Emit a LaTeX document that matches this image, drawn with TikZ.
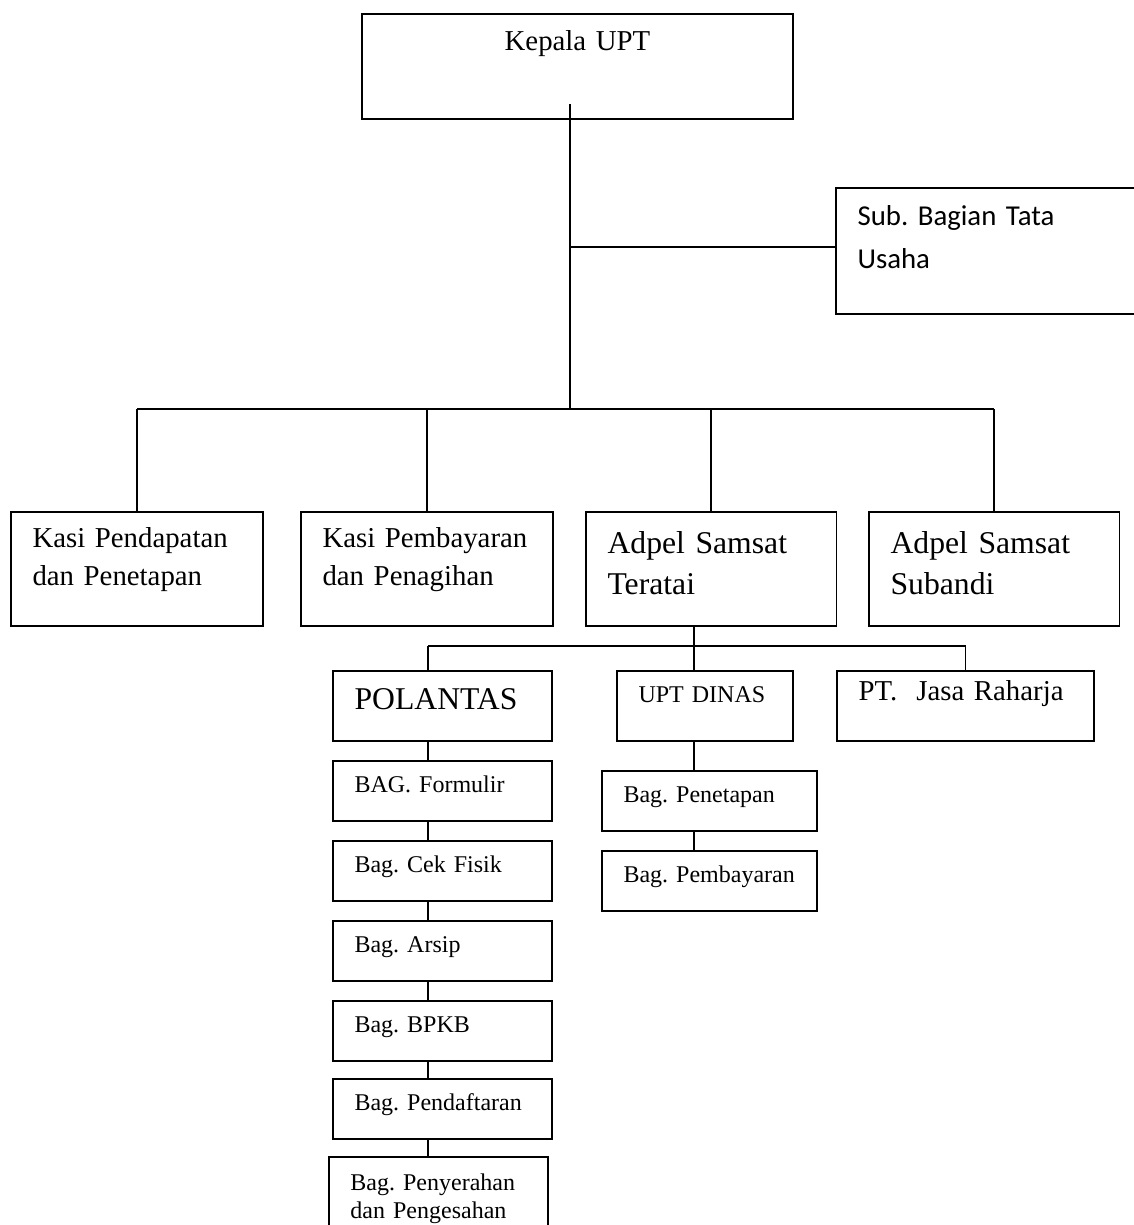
\documentclass[tikz,border=0pt]{standalone}
\usepackage{fontspec}
\setmainfont{Liberation Serif}
\newfontfamily\calibri{Carlito}
\usetikzlibrary{positioning}

\begin{document}
\begin{tikzpicture}[
  x=0.41667pt, y=-0.41667pt,
  line width=0.8pt,
  box/.style={draw, fill=white, anchor=north west, align=left, inner xsep=9pt, inner ysep=0pt},
  kasi/.style={box, text width=87.2pt, text height=15pt, text depth=32.5pt, font=\fontsize{12}{15.8}\selectfont},
  adpel/.style={box, text width=86.4pt, text height=17.1pt, text depth=30.4pt, font=\fontsize{13.2}{17.1}\selectfont},
  bag/.style={box, text width=73.25pt, text height=13.3pt, text depth=11.7pt, font=\fontsize{10}{11.7}\selectfont}
]
\useasboundingbox (0,0) rectangle (1134,1225);
\node[box, text width=161.6pt, align=center, text height=15.4pt, text depth=28.35pt, font=\fontsize{12}{14}\selectfont] (kepala) at (361,13) {Kepala UPT};
\node[box, text width=113.25pt, text height=15.8pt, text depth=36.7pt, font=\calibri\fontsize{12}{17.9}\selectfont] (tatausaha) at (835,187) {Sub.~Bagian~Tata\\Usaha};
\node[kasi] (pendapatan) at (10,511) {Kasi~Pendapatan\\dan~Penetapan};
\node[kasi] (pembayaran) at (300,511) {Kasi~Pembayaran\\dan~Penagihan};
\node[adpel] (teratai) at (585,511) {Adpel~Samsat\\Teratai};
\node[adpel] (subandi) at (868,511) {Adpel~Samsat\\Subandi};
\node[box, text width=73.25pt, text height=16.25pt, text depth=12.9pt, font=\fontsize{13.2}{15}\selectfont] (polantas) at (332,670) {POLANTAS};
\node[box, text width=55.3pt, text height=13.3pt, text depth=15.9pt, font=\fontsize{10}{12}\selectfont] (uptdinas) at (616,670) {UPT~DINAS};
\node[box, text width=89.1pt, text height=12.5pt, text depth=16.7pt, font=\fontsize{12}{14}\selectfont] (jasaraharja) at (836,670) {PT.~~Jasa~Raharja};
\node[bag, below=7.5pt of polantas] (formulir) {BAG.~Formulir};
\node[bag, below=7.5pt of formulir] (cekfisik) {Bag.~Cek~Fisik};
\node[bag, below=7.5pt of cekfisik] (arsip) {Bag.~Arsip};
\node[bag, below=7.5pt of arsip] (bpkb) {Bag.~BPKB};
\node[bag, below=6.7pt of bpkb] (pendaftaran) {Bag.~Pendaftaran};
\node[bag, below=6.7pt of pendaftaran, xshift=-1.7pt, text height=14.2pt, text depth=25.8pt] (penyerahan) {Bag.~Penyerahan\\dan~Pengesahan};
\node[bag, below=11.7pt of uptdinas, xshift=1.9pt, text width=71.6pt] (penetapan) {Bag.~Penetapan};
\node[bag, below=7.5pt of penetapan, text width=71.6pt] (pembayaranbag) {Bag.~Pembayaran};
\coordinate (hub) at (570,409);
\coordinate (hub2) at (694,646);
\coordinate (polx) at (428,646);
\draw ([yshift=6.7pt]kepala.south -| hub) -- (hub);
\draw ([yshift=1.7pt]tatausaha.west) -- ([yshift=1.7pt]tatausaha.west -| hub);
\draw (pendapatan.north |- hub) -- (subandi.north |- hub);
\foreach \n in {pendapatan,pembayaran,teratai,subandi}
  \draw (\n.north) -- (\n.north |- hub);
\draw (teratai.south -| hub2) -- (hub2);
\draw (polx) -- (jasaraharja.north |- hub2) -- (jasaraharja.north);
\draw (polx) -- (polantas.north -| polx);
\draw (hub2) -- (uptdinas.north -| hub2);
\foreach \a/\b in {polantas/formulir,formulir/cekfisik,cekfisik/arsip,arsip/bpkb,bpkb/pendaftaran,pendaftaran/penyerahan}
  \draw (\a.south -| polx) -- (\b.north -| polx);
\foreach \a/\b in {uptdinas/penetapan,penetapan/pembayaranbag}
  \draw (\a.south -| hub2) -- (\b.north -| hub2);
\end{tikzpicture}
\end{document}
